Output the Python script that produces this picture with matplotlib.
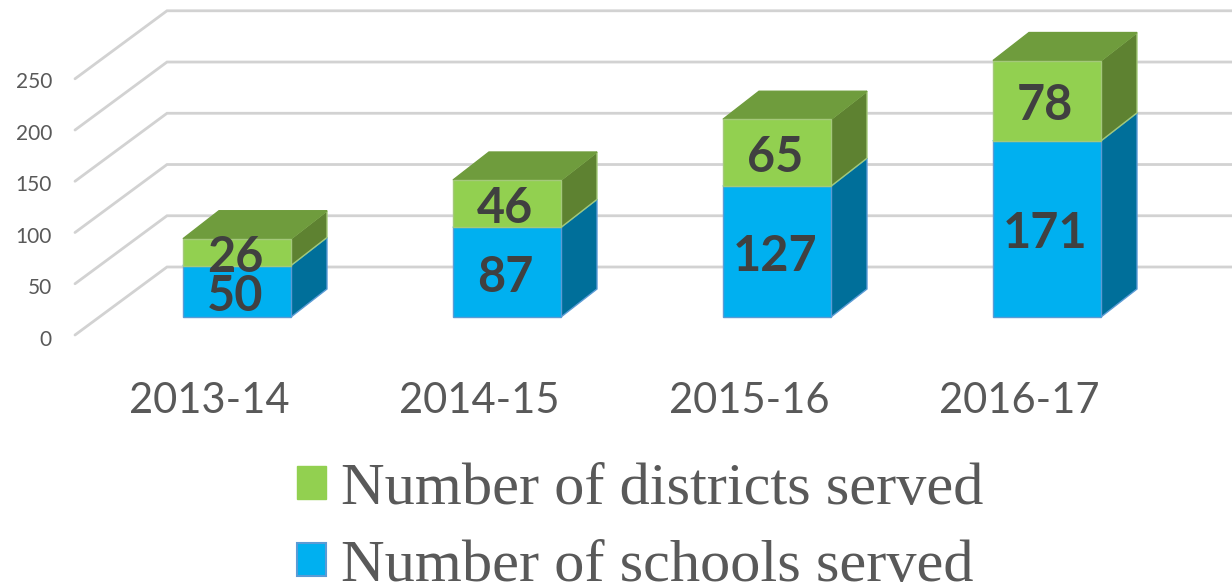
import matplotlib
matplotlib.use('Agg')
import matplotlib.pyplot as plt
from matplotlib.patches import Patch

years = ['2013-14', '2014-15', '2015-16', '2016-17']
schools = [50, 87, 127, 171]
districts = [26, 46, 65, 78]
wall_ticks = [0, 50, 100, 150, 200, 250]

BLUE = ('#00B0F0', '#006F9A', '#0090C8')
GREEN = ('#92D050', '#5E8231', '#6F9C3D')
GRID = '#D2D2D2'

# pixels per data unit, the axes fills the whole picture
sx = 270.0
sy = 1.03
W, H = 1232, 587
x0_px, y0_px = 237, 317
bar_w = 108 / sx
dx = 36 / sx
dy = 28 / sy
text_drop = 5 / sy  # Lato sits a little high when centred
text_left = 2 / sx

fig = plt.figure(figsize=(W / 100, H / 100), dpi=100)
ax = fig.add_axes([0, 0, 1, 1])
ax.set_xlim(-x0_px / sx, (W - x0_px) / sx)
ax.set_ylim((y0_px - H) / sy, y0_px / sy)
ax.axis('off')

# back wall gridlines with the slanted part on the left
wall_left = (75 - x0_px) / sx
wall_back = (167 - x0_px) / sx
for t in wall_ticks:
    back = t * 0.995 + 50 / sy
    front = t * 0.995 - 18 / sy
    ax.plot([wall_left, wall_back, ax.get_xlim()[1]], [front, back, back],
            color=GRID, lw=2.0, solid_capstyle='round', solid_joinstyle='miter', zorder=1)
    ax.text((52 - x0_px) / sx, t * 1.002 - 23 / sy, str(t), ha='right', va='center',
            fontsize=15, family='Lato', color='#595959')


def draw_block(x, bottom, height, colors, edge):
    left = x - bar_w / 2
    right = x + bar_w / 2
    top = bottom + height
    # side and top faces first, then the front
    ax.fill([right, right + dx, right + dx, right],
            [bottom, bottom + dy, top + dy, top],
            color=colors[1], ec=edge, lw=1, zorder=3)
    ax.fill([left, left + dx, right + dx, right],
            [top, top + dy, top + dy, top],
            color=colors[2], ec=colors[2], lw=1, zorder=3)
    ax.bar(x, height, bar_w, bottom=bottom, color=colors[0], ec=edge, lw=1, zorder=4)


for i in range(len(years)):
    draw_block(i, 0, schools[i], BLUE, '#5B9BD5')
    draw_block(i, schools[i], districts[i], GREEN, '#A4C97A')
    ax.text(i - text_left, schools[i] / 2 - text_drop, str(schools[i]), ha='center', va='center',
            fontsize=35, family='Lato', weight='bold', color='#404040', zorder=6)
    ax.text(i - text_left, schools[i] + districts[i] / 2 - text_drop, str(districts[i]), ha='center',
            va='center', fontsize=35, family='Lato', weight='bold', color='#404040', zorder=6)
    ax.text(i - 28 / sx, (y0_px - 401) / sy, years[i], ha='center', va='center',
            fontsize=30, family='Lato', color='#595959')

handles = [Patch(fc=GREEN[0], ec=GREEN[0], label='Number of districts served'),
           Patch(fc=BLUE[0], ec='#5B9BD5', lw=1.5, label='Number of schools served')]
ax.legend(handles=handles, loc='upper left', bbox_to_anchor=(297 / W, 1 - 463 / H),
          frameon=False, handlelength=0.475, handleheight=0.475, handletextpad=0.25,
          labelspacing=0.38, borderpad=0, borderaxespad=0, labelcolor='#595959',
          prop={'family': 'Liberation Serif', 'size': 43.5})

fig.savefig('out.png', dpi=100)
